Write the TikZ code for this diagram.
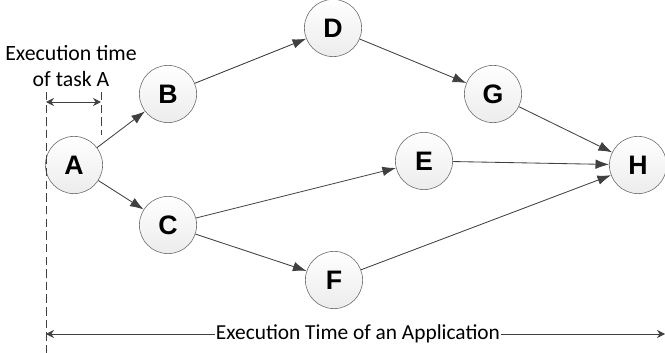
\documentclass[tikz,border=0pt]{standalone}
\usepackage{fontspec}
\setmainfont{Carlito}
\newfontfamily\letterfont{Liberation Sans}
\usetikzlibrary{arrows.meta,positioning}
\definecolor{mygray}{RGB}{64,64,64}
\definecolor{myfill}{RGB}{236,236,236}
\tikzstyle{vertex}=[draw=mygray!80,top color=white,bottom color=myfill,circle,minimum size=1.43cm,inner sep=0pt,font=\letterfont\bfseries\fontsize{19}{19}\selectfont]
\tikzstyle{link}=[draw=mygray,line width=0.6pt,-{Latex[length=3.4mm,width=2.4mm]}]
\tikzstyle{span}=[draw=mygray,line width=0.6pt,{Stealth[length=2mm,width=2mm]}-{Stealth[length=2mm,width=2mm]}]
\tikzstyle{guide}=[draw=mygray,line width=0.6pt,dash pattern=on 6pt off 3pt]

\begin{document}
\begin{tikzpicture}[x=0.025cm,y=-0.025cm]
\useasboundingbox (0,0) rectangle (665,353);
\draw (74, 165) node [vertex] (a) {A};
\draw (168, 94) node [vertex] (b) {B};
\draw (168, 225) node [vertex] (c) {C};
\draw (333, 28) node [vertex] (d) {D};
\draw (424, 161) node [vertex] (e) {E};
\draw (334, 280) node [vertex] (f) {F};
\draw (493, 94) node [vertex] (g) {G};
\draw (638, 165) node [vertex] (h) {H};
\draw[link] (a) -- (b);
\draw[link] (a) -- (c);
\draw[link] (b) -- (d);
\draw[link] (d) -- (g);
\draw[link] (g) -- (h);
\draw[link] (c) -- (e);
\draw[link] (e) -- (h);
\draw[link] (c) -- (f);
\draw[link] (f) -- (h);
% task duration of A
\coordinate (l1) at (46, 92);
\coordinate (l2) at (46, 353);
\coordinate (r1) at (101, 92);
\coordinate (r2) at (101, 135);
\draw[guide] (l1) -- (l2);
\draw[guide] (r1) -- (r2);
\draw (71, 53) node (t1) {\fontsize{15.5}{15.5}\selectfont Execution time};
\draw (71, 79) node (t2) {\fontsize{15.5}{15.5}\selectfont of task A};
\coordinate (s1) at (46, 102);
\coordinate (s2) at (101, 102);
\draw[span] (s1) -- (s2);
% whole application
\coordinate (w1) at (46, 334);
\coordinate (w2) at (665, 334);
\draw[span] (w1) -- (w2);
\draw (358, 334) node [fill=white,inner sep=1pt] (t3) {\fontsize{15.2}{15.2}\selectfont Execution Time of an Application};
\end{tikzpicture}
\end{document}
